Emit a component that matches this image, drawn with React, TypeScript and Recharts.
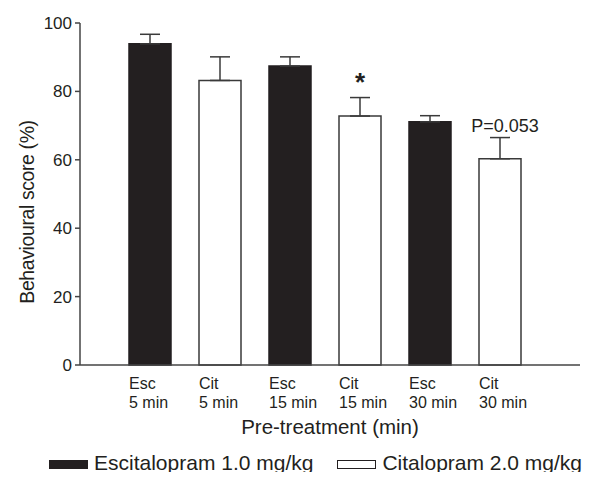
import React from 'react';
import { BarChart, Bar, XAxis, YAxis, ErrorBar, Cell, Legend, ReferenceDot, Label } from 'recharts';

const drugs = ['Esc', 'Cit', 'Esc', 'Cit', 'Esc', 'Cit'];
const times = ['5 min', '5 min', '15 min', '15 min', '30 min', '30 min'];
const scores = [93.9, 83.2, 87.4, 72.8, 71.1, 60.3];
const sem = [2.8, 6.9, 2.7, 5.4, 1.8, 6.2];
const notes = ['', '', '', '*', '', 'P=0.053'];
const yTicks = [0, 20, 40, 60, 80, 100];

const FONT = '"Liberation Sans", Arial, sans-serif';
const INK = '#231f20';
const ESC_FILL = INK;
const CIT_FILL = '#ffffff';

const data = drugs.map((d, i) => ({
  name: `${d} ${times[i]}`,
  drug: d,
  value: scores[i],
  err: [0, sem[i]],
  top: scores[i] + sem[i],
  note: notes[i],
}));

function CategoryTick({ x, y, payload }: any) {
  const [first, ...rest] = String(payload.value).split(' ');
  const left = x - 21;
  return (
    <text x={left} y={y + 16} textAnchor="start" fontSize={16} fill={INK} fontFamily={FONT}>
      <tspan x={left}>{first}</tspan>
      <tspan x={left} dy={18.5}>{rest.join(' ')}</tspan>
    </text>
  );
}

function LegendContent() {
  const items = [
    { label: 'Escitalopram 1.0 mg/kg', fill: ESC_FILL },
    { label: 'Citalopram 2.0 mg/kg', fill: CIT_FILL },
  ];
  return (
    <div style={{ height: 24, lineHeight: '24px', paddingLeft: 49, fontFamily: FONT, fontSize: 21, color: INK, whiteSpace: 'nowrap' }}>
      {items.map((it, i) => (
        <span key={i} style={{ marginRight: 24 }}>
          <span style={{ display: 'inline-block', width: 37, height: 7, verticalAlign: 1, background: it.fill, border: `1px solid ${INK}`, marginRight: 6 }} />
          {it.label}
        </span>
      ))}
    </div>
  );
}

export default function App() {
  return (
    <div style={{ margin: -8, width: 593, height: 480, background: '#fff', overflow: 'hidden' }}>
      <BarChart width={593} height={480} data={data} margin={{ top: 23, right: 13, left: 0, bottom: 5 }}>
        <XAxis
          dataKey="name"
          padding={{ left: 35, right: 45 }}
          tickLine={false}
          tick={<CategoryTick />}
          interval={0}
          height={86}
          axisLine={{ stroke: '#444', strokeWidth: 1.5 }}
        >
          <Label
            content={({ viewBox }: any) => (
              <text x={viewBox.x + viewBox.width / 2} y={viewBox.y + 69} textAnchor="middle" fontSize={20.5} fill={INK} fontFamily={FONT}>
                Pre-treatment (min)
              </text>
            )}
          />
        </XAxis>
        <YAxis
          domain={[0, 100]}
          ticks={yTicks}
          width={80}
          tickSize={5}
          tickMargin={3}
          tick={{ fontSize: 17, fill: INK, fontFamily: FONT }}
          axisLine={{ stroke: '#444', strokeWidth: 1.5 }}
          tickLine={{ stroke: '#444', strokeWidth: 1.5 }}
        >
          <Label
            content={({ viewBox }: any) => {
              const cx = viewBox.x + 27;
              const cy = viewBox.y + viewBox.height / 2 + 18;
              return (
                <text x={cx} y={cy} transform={`rotate(-90 ${cx} ${cy})`} textAnchor="middle" dominantBaseline="central" fontSize={19.5} letterSpacing={-0.4} fill={INK} fontFamily={FONT}>
                  Behavioural score (%)
                </text>
              );
            }}
          />
        </YAxis>
        <Legend verticalAlign="bottom" align="left" height={24} content={<LegendContent />} />
        <Bar dataKey="value" barSize={42} isAnimationActive={false} strokeWidth={1.5}>
          {data.map((d, i) => (
            <Cell key={i} fill={d.drug === 'Esc' ? ESC_FILL : CIT_FILL} stroke={d.drug === 'Esc' ? INK : '#3a3a3a'} />
          ))}
          <ErrorBar dataKey="err" width={10} stroke="#3a3a3a" strokeWidth={1.5} direction="y" />
        </Bar>
        {data
          .filter((d) => d.note)
          .map((d) => (
            <ReferenceDot
              key={d.name}
              x={d.name}
              y={d.top}
              r={0}
              fill="none"
              stroke="none"
              label={
                d.note === '*'
                  ? { value: d.note, position: 'top', offset: 7, fontSize: 26, fontWeight: 'bold', fill: INK, fontFamily: FONT }
                  : { value: d.note, position: 'top', offset: 6, dx: 5, fontSize: 18, fill: INK, fontFamily: FONT }
              }
            />
          ))}
      </BarChart>
    </div>
  );
}
